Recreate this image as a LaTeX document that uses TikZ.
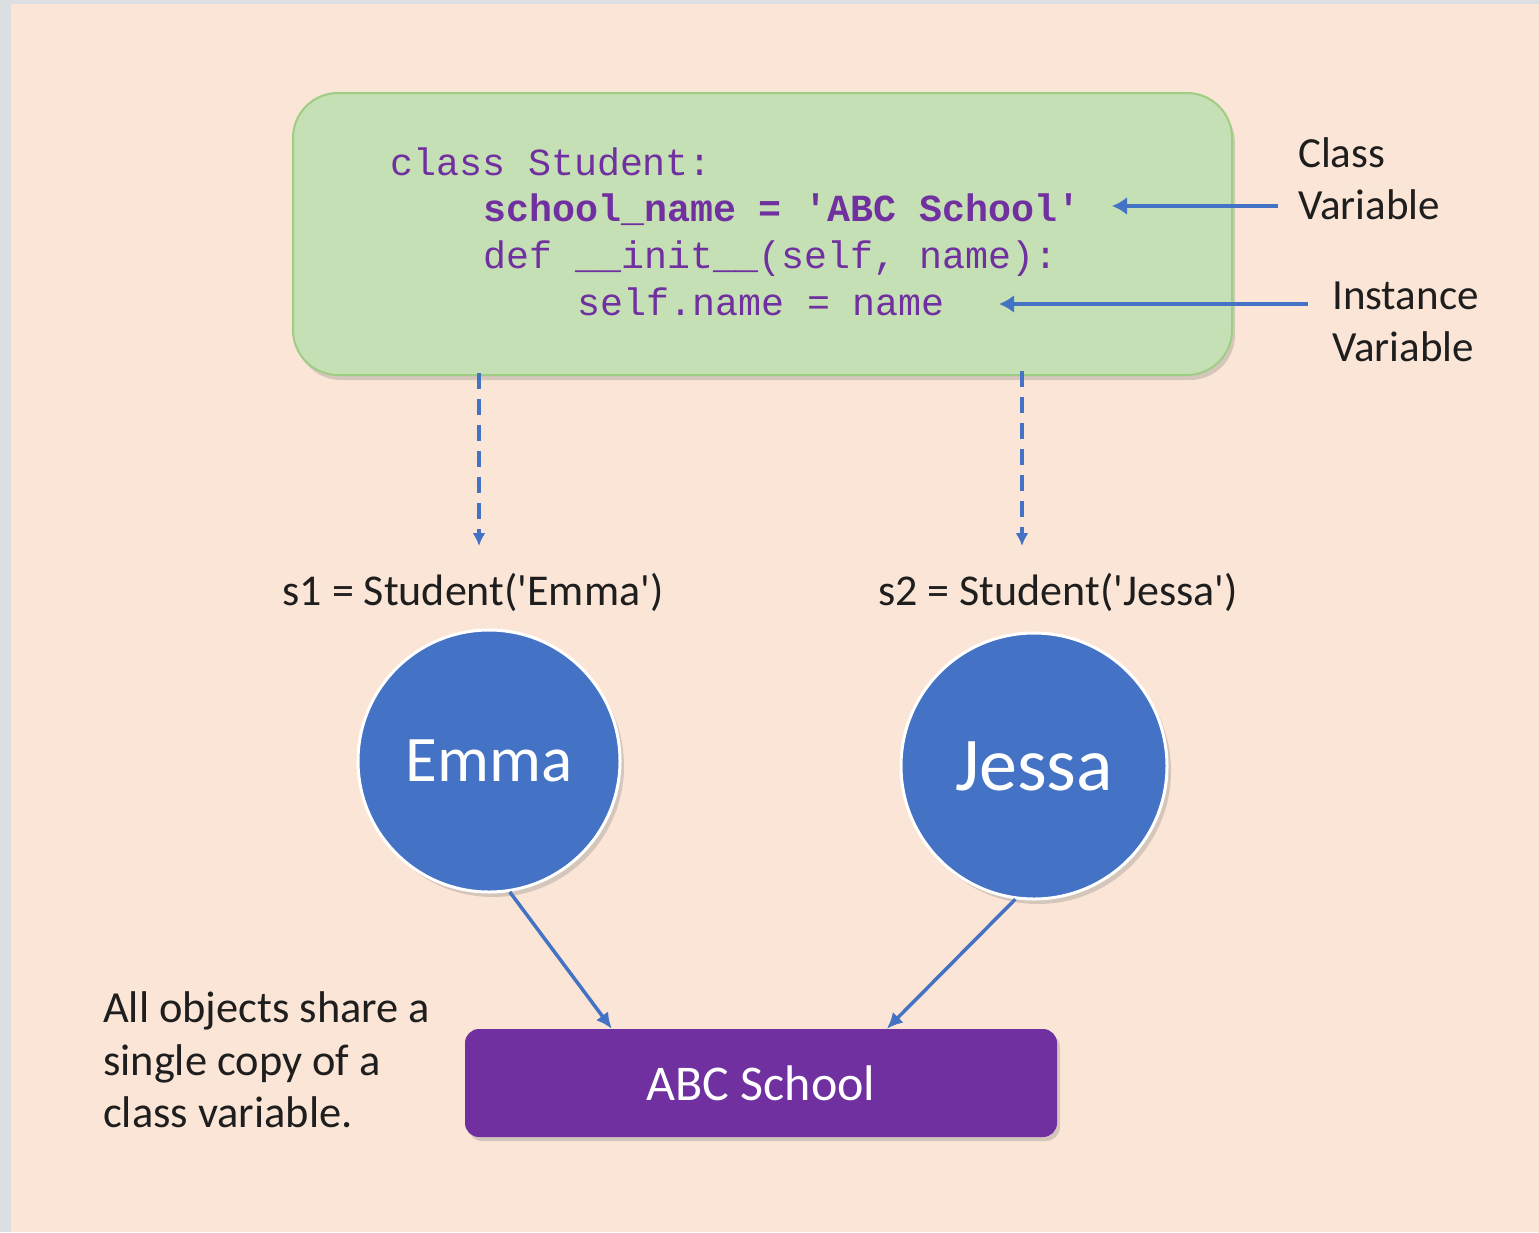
\documentclass[tikz,border=0pt]{standalone}
\usepackage{fontspec}
\setmainfont{Carlito}
\newfontfamily\codefont{Liberation Mono}
\usetikzlibrary{shadows,arrows.meta}
\definecolor{bgpeach}{HTML}{FBE5D6}
\definecolor{bggray}{HTML}{DCDFE1}
\definecolor{codegreen}{HTML}{C5E0B4}
\definecolor{codeedge}{HTML}{9FCD84}
\definecolor{codepurple}{HTML}{7030A0}
\definecolor{objblue}{HTML}{4472C4}
\definecolor{textdark}{HTML}{1E1E1E}
\tikzset{
  codebox/.style={draw=codeedge, line width=2pt, fill=codegreen, rounded corners=45pt,
    minimum width=939pt, minimum height=282pt, inner sep=0pt,
    drop shadow={shadow xshift=3pt, shadow yshift=-5pt, opacity=0.3}},
  codeline/.style={anchor=base west, inner sep=0pt, text=codepurple,
    font=\codefont\fontsize{38.3}{46}\selectfont},
  lbl/.style={anchor=west, align=left, inner sep=0pt, text=textdark,
    font=\fontsize{43}{52}\selectfont},
  objlbl/.style={inner sep=0pt, text=textdark, font=\fontsize{44}{52}\selectfont},
  obj/.style={circle, fill=objblue, draw=white, line width=3pt, text=white, inner sep=0pt,
    drop shadow={shadow xshift=4pt, shadow yshift=-5pt, opacity=0.3}},
  schoolbox/.style={fill=codepurple, rounded corners=14pt, minimum width=592pt, minimum height=108pt,
    inner sep=0pt, text=white, font=\fontsize{50}{56}\selectfont,
    drop shadow={shadow xshift=3pt, shadow yshift=-4pt, opacity=0.3}},
  ptr/.style={draw=objblue, line width=4.5pt, -{Latex[length=15pt,width=18pt]}},
  dashptr/.style={draw=objblue, line width=3.5pt, dash pattern=on 16pt off 10pt, -{Latex[length=13pt,width=13pt]}},
  objptr/.style={draw=objblue, line width=3.5pt, -{Latex[length=16pt,width=15pt]}}
}
\begin{document}
\begin{tikzpicture}[x=1pt,y=-1pt]
\useasboundingbox (0,0) rectangle (1539,1232);
\fill[bggray] (0,0) rectangle (1539,1232);
\fill[bgpeach] (11,4) rectangle (1539,1232);

% class box
\node[codebox] (cls) at (762.5,234) {};
\node[codeline] (l1) at (390,175) {class Student:};
\node[codeline, font=\codefont\bfseries\fontsize{38.3}{46}\selectfont] (l2) at (483,221) {school\_name = \textquotesingle ABC School\textquotesingle};
\node[codeline] (l3) at (483,268) {def \_\_init\_\_(self, name):};
\node[codeline] (l4) at (577,315) {self.name = name};

% side labels
\node[lbl] (cv) at (1298,179) {Class\\Variable};
\node[lbl] (iv) at (1332,322) {Instance\\Variable};
\coordinate (cvtail) at (1278,206);
\coordinate (cvhead) at (1112,206);
\coordinate (ivtail) at (1308,304);
\coordinate (ivhead) at (999,304);
\draw[ptr] (cvtail) -- (cvhead);
\draw[ptr] (ivtail) -- (ivhead);

% object labels
\node[objlbl] (s1) at (473,592) {s1 = Student(\textquotesingle Emma\textquotesingle)};
\node[objlbl] (s2) at (1058,592) {s2 = Student(\textquotesingle Jessa\textquotesingle)};
\coordinate (d1a) at (479,373);
\coordinate (d1b) at (479,546);
\coordinate (d2a) at (1022,371);
\coordinate (d2b) at (1022,546);
\draw[dashptr] (d1a) -- (d1b);
\draw[dashptr] (d2a) -- (d2b);

% objects
\node[obj, minimum size=262pt, font=\fontsize{65}{70}\selectfont] (emma) at (489,761) {Emma};
\node[obj, minimum size=266pt, font=\fontsize{76}{80}\selectfont] (jessa) at (1034,766) {Jessa};

% shared class variable
\node[schoolbox] (school) at (761,1083) {ABC School};
\draw[objptr] (emma.-81) -- ([xshift=147pt]school.north west);
\draw[objptr] (jessa.-98) -- ([xshift=422pt]school.north west);

\node[lbl, font=\fontsize{44.4}{52.5}\selectfont] (note) at (103,1060) {All objects share a\\single copy of a\\class variable.};
\end{tikzpicture}
\end{document}
